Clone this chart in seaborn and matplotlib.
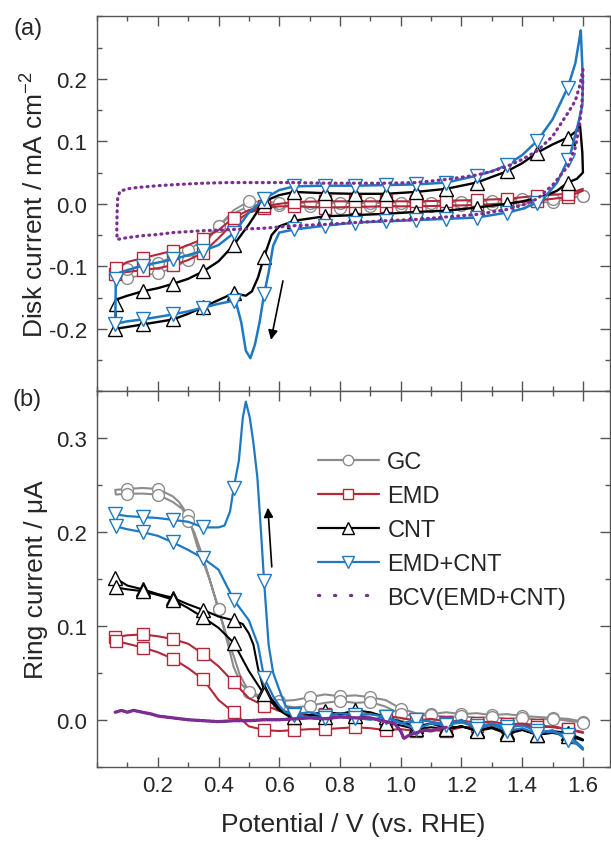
import numpy as np
import pandas as pd
import matplotlib
matplotlib.use("Agg")
import matplotlib.pyplot as plt
from matplotlib.lines import Line2D
from matplotlib.ticker import MultipleLocator, FixedLocator, FormatStrFormatter
import seaborn as sns

# ---------------- panel (a): disk current, mA cm^-2 ----------------
# each loop: cathodic sweep (1.6 -> 0.06 V) followed by the anodic return
a_gc_E = [1.60, 1.50, 1.40, 1.30, 1.20, 1.10, 1.00, 0.90, 0.80, 0.70, 0.60, 0.55, 0.50, 0.45, 0.40, 0.35,
          0.30, 0.25, 0.20, 0.15, 0.10, 0.06,
          0.062, 0.10, 0.20, 0.30, 0.35, 0.40, 0.45, 0.50, 0.60, 0.70, 0.80, 0.90, 1.00, 1.10, 1.20, 1.30,
          1.40, 1.50, 1.60]
a_gc_I = [0.013, 0.003, 0.001, -0.001, -0.002, -0.003, -0.003, -0.004, -0.006, -0.004, -0.002, -0.001, -0.004,
          -0.015, -0.035, -0.068, -0.090, -0.103, -0.111, -0.115, -0.118, -0.120,
          -0.108, -0.104, -0.095, -0.074, -0.058, -0.036, -0.010, 0.004, 0.002, 0.001, 0.001, 0.001, 0.002,
          0.002, 0.003, 0.005, 0.007, 0.008, 0.013]

a_emd_E = [1.60, 1.55, 1.45, 1.35, 1.25, 1.15, 1.05, 0.95, 0.85, 0.75, 0.65, 0.60, 0.55, 0.50, 0.45, 0.40,
           0.35, 0.30, 0.25, 0.20, 0.15, 0.10, 0.06,
           0.062, 0.10, 0.15, 0.20, 0.25, 0.30, 0.35, 0.40, 0.45, 0.50, 0.55, 0.60, 0.65, 0.75, 0.85, 0.95,
           1.05, 1.15, 1.25, 1.35, 1.45, 1.55, 1.60]
a_emd_I = [0.021, 0.011, 0.005, 0.001, -0.002, -0.003, -0.004, -0.004, -0.005, -0.006, -0.004, -0.004, -0.007,
           -0.014, -0.030, -0.055, -0.078, -0.090, -0.098, -0.103, -0.106, -0.109, -0.112,
           -0.102, -0.093, -0.087, -0.081, -0.075, -0.066, -0.056, -0.042, -0.022, -0.010, -0.004, 0.000,
           0.003, 0.004, 0.004, 0.004, 0.004, 0.005, 0.006, 0.008, 0.013, 0.016, 0.024]

a_cnt_E = [1.59, 1.598, 1.60, 1.58, 1.55, 1.515, 1.46, 1.40, 1.35, 1.25, 1.15, 1.05, 0.95, 0.85, 0.75, 0.65,
           0.60, 0.575, 0.55, 0.53, 0.51, 0.49, 0.45, 0.40, 0.35, 0.30, 0.25, 0.20, 0.15, 0.10, 0.06,
           0.062, 0.07, 0.10, 0.15, 0.20, 0.25, 0.30, 0.35, 0.40, 0.45, 0.50, 0.55, 0.60, 0.65, 0.75, 0.85,
           0.95, 1.05, 1.15, 1.25, 1.35, 1.40, 1.45, 1.50, 1.55, 1.575, 1.59]
a_cnt_I = [0.128, 0.082, 0.050, 0.040, 0.034, 0.021, 0.010, 0.004, 0.000, -0.006, -0.011, -0.013, -0.016,
           -0.018, -0.020, -0.027, -0.036, -0.050, -0.085, -0.118, -0.140, -0.147, -0.143, -0.154, -0.165,
           -0.176, -0.185, -0.189, -0.193, -0.197, -0.200,
           -0.160, -0.152, -0.147, -0.140, -0.135, -0.128, -0.120, -0.108, -0.092, -0.066, -0.033, 0.004,
           0.014, 0.019, 0.017, 0.016, 0.016, 0.019, 0.024, 0.034, 0.052, 0.065, 0.082, 0.095, 0.106, 0.115,
           0.128]

a_mix_E = [1.593, 1.60, 1.598, 1.58, 1.56, 1.55, 1.515, 1.47, 1.45, 1.40, 1.35, 1.25, 1.15, 1.05, 0.95, 0.85,
           0.75, 0.65, 0.60, 0.58, 0.565, 0.55, 0.535, 0.52, 0.505, 0.49, 0.475, 0.46, 0.45, 0.40, 0.35,
           0.30, 0.25, 0.20, 0.15, 0.10, 0.06,
           0.062, 0.075, 0.10, 0.15, 0.20, 0.25, 0.30, 0.35, 0.40, 0.45, 0.50, 0.55, 0.60, 0.65, 0.75, 0.85,
           0.95, 1.05, 1.15, 1.25, 1.30, 1.35, 1.40, 1.45, 1.50, 1.55, 1.575, 1.593]
a_mix_I = [0.277, 0.197, 0.157, 0.120, 0.082, 0.070, 0.034, 0.008, 0.002, -0.008, -0.014, -0.022, -0.024,
           -0.026, -0.028, -0.030, -0.035, -0.041, -0.046, -0.067, -0.110, -0.145, -0.190, -0.225, -0.247,
           -0.235, -0.190, -0.162, -0.155, -0.160, -0.166, -0.172, -0.177, -0.181, -0.185, -0.188, -0.192,
           -0.120, -0.110, -0.106, -0.099, -0.094, -0.089, -0.082, -0.075, -0.066, -0.047, -0.014, 0.008,
           0.022, 0.028, 0.029, 0.029, 0.030, 0.031, 0.034, 0.045, 0.052, 0.062, 0.078, 0.101, 0.135, 0.186,
           0.225, 0.277]

a_bcv_E = [1.60, 1.598, 1.59, 1.575, 1.55, 1.50, 1.45, 1.40, 1.35, 1.25, 1.15, 1.05, 0.95, 0.85, 0.75, 0.65,
           0.55, 0.45, 0.35, 0.25, 0.20, 0.15, 0.10, 0.066,
           0.065, 0.066, 0.068, 0.075, 0.10, 0.13, 0.20, 0.265, 0.35, 0.43, 0.55, 0.65, 0.75, 0.85, 0.95,
           1.05, 1.15, 1.25, 1.30, 1.35, 1.40, 1.45, 1.50, 1.55, 1.575, 1.59, 1.60]
a_bcv_I = [0.215, 0.170, 0.130, 0.090, 0.060, 0.030, 0.008, -0.002, -0.009, -0.017, -0.021, -0.025, -0.027,
           -0.030, -0.033, -0.035, -0.039, -0.041, -0.043, -0.046, -0.049, -0.051, -0.054, -0.057,
           -0.040, -0.015, 0.008, 0.020, 0.024, 0.026, 0.029, 0.031, 0.033, 0.034, 0.034, 0.034, 0.033, 0.033,
           0.033, 0.034, 0.039, 0.046, 0.052, 0.060, 0.071, 0.085, 0.108, 0.145, 0.165, 0.190, 0.215]

# ---------------- panel (b): ring current, uA ----------------
b_gc_E = [1.60, 1.55, 1.50, 1.45, 1.40, 1.35, 1.30, 1.25, 1.20, 1.15, 1.10, 1.05, 1.00, 0.95, 0.90, 0.85,
          0.80, 0.75, 0.70, 0.65, 0.60, 0.55, 0.50, 0.475, 0.45, 0.43, 0.40, 0.37, 0.35, 0.33, 0.30, 0.27,
          0.25, 0.20, 0.15, 0.10, 0.06,
          0.062, 0.10, 0.15, 0.20, 0.25, 0.28, 0.30, 0.32, 0.35, 0.38, 0.40, 0.43, 0.45, 0.47, 0.50, 0.55,
          0.60, 0.65, 0.70, 0.75, 0.80, 0.85, 0.90, 0.95, 1.00, 1.05, 1.10, 1.15, 1.20, 1.25, 1.30, 1.35,
          1.40, 1.45, 1.50, 1.55, 1.60]
b_gc_I = [-0.002, 0.001, 0.002, 0.003, 0.004, 0.006, 0.005, 0.007, 0.006, 0.008, 0.006, 0.007, 0.012, 0.021,
          0.024, 0.026, 0.025, 0.027, 0.024, 0.021, 0.020, 0.024, 0.030, 0.038, 0.056, 0.082, 0.118, 0.150,
          0.168, 0.185, 0.218, 0.232, 0.238, 0.246, 0.247, 0.246, 0.245,
          0.240, 0.241, 0.241, 0.240, 0.232, 0.225, 0.212, 0.200, 0.172, 0.140, 0.118, 0.086, 0.068, 0.048,
          0.030, 0.020, 0.016, 0.013, 0.015, 0.018, 0.020, 0.018, 0.019, 0.014, 0.006, 0.004, 0.005, 0.003,
          0.004, 0.002, 0.003, 0.001, 0.002, 0.000, 0.001, -0.001, -0.003]

b_emd_E = [1.60, 1.55, 1.50, 1.45, 1.40, 1.35, 1.30, 1.25, 1.20, 1.15, 1.10, 1.05, 1.00, 0.95, 0.90, 0.85,
           0.80, 0.75, 0.70, 0.65, 0.60, 0.55, 0.50, 0.45, 0.40, 0.35, 0.30, 0.25, 0.20, 0.15, 0.10, 0.06,
           0.062, 0.10, 0.15, 0.20, 0.25, 0.30, 0.35, 0.40, 0.45, 0.50, 0.55, 0.60, 0.65, 0.70, 0.75, 0.80,
           0.85, 0.90, 0.95, 1.00, 1.05, 1.10, 1.15, 1.20, 1.25, 1.30, 1.35, 1.40, 1.45, 1.50, 1.55, 1.60]
b_emd_I = [-0.014, -0.010, -0.008, -0.006, -0.004, -0.005, -0.002, -0.003, -0.001, -0.002, 0.001, -0.001,
           0.002, 0.004, 0.006, 0.005, 0.007, 0.006, 0.005, 0.007, 0.010, 0.015, 0.023, 0.040, 0.057, 0.070,
           0.081, 0.086, 0.089, 0.091, 0.090, 0.088,
           0.084, 0.081, 0.077, 0.072, 0.065, 0.055, 0.043, 0.021, 0.008, -0.007, -0.011, -0.012, -0.011,
           -0.010, -0.010, -0.009, -0.008, -0.009, -0.011, -0.010, -0.012, -0.011, -0.012, -0.008, -0.007,
           -0.006, -0.008, -0.006, -0.008, -0.007, -0.010, -0.013]

b_cnt_E = [1.60, 1.55, 1.50, 1.45, 1.40, 1.35, 1.30, 1.25, 1.20, 1.15, 1.10, 1.05, 1.00, 0.95, 0.90, 0.85,
           0.80, 0.75, 0.70, 0.65, 0.62, 0.60, 0.58, 0.55, 0.53, 0.515, 0.50, 0.48, 0.45, 0.40, 0.35, 0.30,
           0.25, 0.20, 0.15, 0.10, 0.06,
           0.062, 0.10, 0.15, 0.20, 0.25, 0.30, 0.35, 0.40, 0.45, 0.50, 0.55, 0.60, 0.64, 0.70, 0.75, 0.80,
           0.85, 0.90, 0.95, 1.00, 1.05, 1.10, 1.15, 1.20, 1.25, 1.30, 1.35, 1.40, 1.45, 1.50, 1.55, 1.60]
b_cnt_I = [-0.021, -0.014, -0.012, -0.016, -0.010, -0.013, -0.008, -0.011, -0.007, -0.009, -0.004, -0.007,
           -0.002, 0.003, 0.008, 0.010, 0.006, 0.009, 0.005, 0.003, 0.008, 0.013, 0.020, 0.031, 0.055, 0.080,
           0.092, 0.102, 0.106, 0.110, 0.117, 0.123, 0.130, 0.134, 0.139, 0.143, 0.151,
           0.141, 0.139, 0.137, 0.133, 0.128, 0.119, 0.109, 0.098, 0.082, 0.052, 0.027, 0.010, 0.002, 0.005,
           0.003, 0.007, 0.004, 0.002, -0.003, -0.006, -0.010, -0.008, -0.010, -0.007, -0.012, -0.009,
           -0.015, -0.011, -0.016, -0.014, -0.017, -0.022]

b_mix_E = [1.60, 1.58, 1.55, 1.50, 1.45, 1.40, 1.35, 1.30, 1.25, 1.20, 1.15, 1.10, 1.05, 1.00, 0.95, 0.90,
           0.85, 0.80, 0.75, 0.70, 0.65, 0.62, 0.60, 0.58, 0.565, 0.55, 0.54, 0.528, 0.515, 0.503, 0.49,
           0.48, 0.467, 0.45, 0.438, 0.42, 0.40, 0.35, 0.30, 0.25, 0.20, 0.15, 0.10, 0.06,
           0.062, 0.10, 0.15, 0.20, 0.25, 0.30, 0.35, 0.40, 0.45, 0.50, 0.53, 0.55, 0.58, 0.60, 0.62, 0.65,
           0.70, 0.75, 0.80, 0.85, 0.90, 0.95, 1.00, 1.05, 1.10, 1.15, 1.20, 1.25, 1.30, 1.35, 1.40, 1.45,
           1.50, 1.55, 1.58, 1.60]
b_mix_I = [-0.030, -0.024, -0.016, -0.013, -0.012, -0.006, -0.008, -0.004, -0.007, -0.003, -0.005, -0.002,
           0.000, -0.004, 0.003, 0.006, 0.005, 0.007, 0.004, 0.008, 0.006, 0.015, 0.032, 0.050, 0.080, 0.148,
           0.200, 0.258, 0.295, 0.322, 0.339, 0.322, 0.276, 0.247, 0.222, 0.207, 0.205, 0.205, 0.211, 0.213,
           0.215, 0.216, 0.217, 0.219,
           0.206, 0.203, 0.200, 0.196, 0.189, 0.181, 0.172, 0.160, 0.128, 0.106, 0.080, 0.045, 0.025, 0.015,
           0.008, 0.005, 0.003, 0.002, 0.004, 0.002, 0.000, 0.003, -0.003, -0.010, -0.004, -0.006, 0.000,
           -0.010, -0.005, -0.012, -0.009, -0.015, -0.011, -0.022, -0.026, -0.032]

b_bcv_E = [0.06, 0.08, 0.10, 0.12, 0.15, 0.18, 0.20, 0.25, 0.30, 0.35, 0.40, 0.45, 0.50, 0.55, 0.60, 0.65,
           0.70, 0.75, 0.80, 0.85, 0.90, 0.95, 0.98, 1.00, 1.01, 1.03, 1.05, 1.08, 1.10, 1.13, 1.15]
b_bcv_I = [0.008, 0.010, 0.008, 0.010, 0.008, 0.006, 0.004, 0.002, 0.000, -0.001, -0.002, -0.001, -0.001,
           0.000, 0.000, 0.001, 0.002, 0.001, 0.003, 0.002, 0.002, -0.002, -0.004, -0.012, -0.020, -0.016,
           -0.014, -0.011, -0.012, -0.009, -0.008]

labels = ["GC", "EMD", "CNT", "EMD+CNT", "BCV(EMD+CNT)"]
colors = ["#8c8c8c", "#b3283b", "#000000", "#1f79c2", "#7d2d91"]
markers = ["o", "s", "^", "v", None]
msizes = [8.5, 8, 9.5, 9.5, 0]
mark_mod = [0, 5, 5, 5, None]

sns.set_style("ticks")
plt.rcParams["font.family"] = ["Liberation Sans", "DejaVu Sans"]
plt.rcParams["axes.unicode_minus"] = False
plt.rcParams["mathtext.default"] = "regular"


def marker_mask(E, mod):
    k = np.rint(np.asarray(E) * 100).astype(int)
    m = k % 10 == mod
    if mod == 5:
        m |= k == 6
    return list(m)


def draw(ax, E, I, i, lw, dots=(0, (0.3, 1.6))):
    df = pd.DataFrame({"E": E, "I": I})
    kw = dict(color=colors[i], lw=lw, zorder=3 + i)
    if markers[i] is None:
        kw.update(linestyle=dots, dash_capstyle="round")
    else:
        kw.update(marker=markers[i], ms=msizes[i], mfc="white", mec=colors[i], mew=1.0,
                  markevery=marker_mask(E, mark_mod[i]))
    sns.lineplot(data=df, x="E", y="I", sort=False, estimator=None, ax=ax, **kw)


fig = plt.figure(figsize=(6.11, 8.45), dpi=100)
ax1 = fig.add_axes([0.1588, 0.5357, 0.8400, 0.4438])
ax2 = fig.add_axes([0.1588, 0.0915, 0.8400, 0.4442])

panel_a = [(a_gc_E, a_gc_I, 1.3), (a_emd_E, a_emd_I, 1.5), (a_cnt_E, a_cnt_I, 1.7),
           (a_mix_E, a_mix_I, 1.8), (a_bcv_E, a_bcv_I, 2.3)]
panel_b = [(b_gc_E, b_gc_I, 1.5), (b_emd_E, b_emd_I, 1.5), (b_cnt_E, b_cnt_I, 1.5),
           (b_mix_E, b_mix_I, 1.6), (b_bcv_E, b_bcv_I, 2.4)]
for i, (E, I, lw) in enumerate(panel_a):
    draw(ax1, E, I, i, lw)
for i, (E, I, lw) in enumerate(panel_b):
    draw(ax2, E, I, i, lw, dots=(0, (0.6, 0.5)))

for ax in (ax1, ax2):
    ax.set_xlim(0.0, 1.69)
    ax.xaxis.set_major_locator(FixedLocator([0.2, 0.4, 0.6, 0.8, 1.0, 1.2, 1.4, 1.6]))
    ax.xaxis.set_minor_locator(MultipleLocator(0.1))
    ax.yaxis.set_minor_locator(MultipleLocator(0.05))
    ax.yaxis.set_major_formatter(FormatStrFormatter("%.1f"))
    ax.xaxis.set_major_formatter(FormatStrFormatter("%.1f"))
    ax.tick_params(which="both", direction="in", top=True, right=True, color="#555555",
                   width=1.0, labelsize=16)
    ax.tick_params(which="major", length=7)
    ax.tick_params(which="minor", length=3.5)
    ax.tick_params(axis="y", pad=7)
    ax.tick_params(axis="x", pad=6)
    for s in ax.spines.values():
        s.set_color("#555555")
        s.set_linewidth(1.0)

ax1.set_ylim(-0.3, 0.3)
ax1.yaxis.set_major_locator(FixedLocator([-0.2, -0.1, 0.0, 0.1, 0.2]))
ax1.tick_params(labelbottom=False)
ax1.set_xlabel("")
ax1.set_ylabel("Disk current / mA cm$^{-2}$", fontsize=19)
ax1.yaxis.set_label_coords(-0.095, 0.5)

ax2.set_ylim(-0.05, 0.35)
ax2.yaxis.set_major_locator(FixedLocator([0.0, 0.1, 0.2, 0.3]))
ax2.set_ylabel("Ring current / \u03bcA", fontsize=19)
ax2.yaxis.set_label_coords(-0.095, 0.5)
ax2.set_xlabel("Potential / V (vs. RHE)", fontsize=19)
ax2.xaxis.set_label_coords(0.5, -0.122)

# sweep direction arrows
ax1.annotate("", xy=(0.571, -0.222), xytext=(0.614, -0.119),
             arrowprops=dict(arrowstyle="-|>", color="black", lw=1.2, mutation_scale=14))
ax2.annotate("", xy=(0.562, 0.229), xytext=(0.576, 0.160),
             arrowprops=dict(arrowstyle="-|>", color="black", lw=1.2, mutation_scale=14))

handles = []
for i, lab in enumerate(labels):
    if markers[i] is None:
        h = Line2D([0], [0], color=colors[i], lw=2.3, linestyle=(0, (0.4, 4.6)), dash_capstyle="round")
    else:
        h = Line2D([0], [0], color=colors[i], lw=1.6, marker=markers[i], ms=msizes[i] - 1,
                   mfc="white", mec=colors[i], mew=1.0)
    handles.append(h)
ax2.legend(handles, labels, loc="upper left", bbox_to_anchor=(0.43, 0.84), frameon=False,
           fontsize=17, handlelength=2.6, handletextpad=0.35, labelspacing=0.5,
           borderpad=0, borderaxespad=0)

fig.text(28 / 611, 1 - 29 / 845, "(a)", fontsize=17, ha="center", va="center")
fig.text(27 / 611, 1 - 400 / 845, "(b)", fontsize=17, ha="center", va="center")

fig.savefig("out.png", dpi=100)
